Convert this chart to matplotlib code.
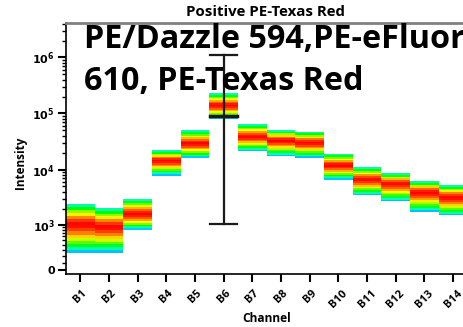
import numpy as np
import matplotlib
matplotlib.use("Agg")
import matplotlib.pyplot as plt
from matplotlib.colors import hsv_to_rgb

channels = ["B1", "B2", "B3", "B4", "B5", "B6", "B7", "B8", "B9", "B10", "B11", "B12", "B13", "B14"]
top_vals = [2400, 2050, 3000, 22000, 50000, 228000, 63700, 50800, 47200, 19200, 10960, 8690, 6340, 5370]
bottom_vals = [250, 250, 790, 7800, 16100, 78200, 21200, 17200, 16100, 6600, 3450, 2690, 1770, 1500]
peak_vals = [1010, 920, 1610, 14400, 29000, 139000, 38800, 32900, 30300, 11800, 6600, 5600, 3850, 3140]
err_channel = "B6"
err_low, err_mid, err_high = 1050, 88400, 1090000

C = 324.0
LN10 = np.log(10)

def fwd(y):
    return np.arcsinh(np.asarray(y, float) / C) / LN10

def inv(f):
    return C * np.sinh(np.asarray(f, float) * LN10)

FONT = 'Open Sans'
fig = plt.figure(figsize=(4.64, 3.27), dpi=100)
ax = fig.add_axes([66/464, 1-274/327, 1-66/464, (274-23)/327])
ax.set_yscale('function', functions=(fwd, inv))

nrows = 16
for i, (t, b, p) in enumerate(zip(top_vals, bottom_vals, peak_vals)):
    x = i + 1
    ft, fb, fp = fwd(t), fwd(b), fwd(p)
    edges_f = np.linspace(fb, ft, nrows + 1)
    mids = 0.5 * (edges_f[:-1] + edges_f[1:])
    hues = np.empty(nrows)
    for k, m in enumerate(mids):
        if m >= fp:
            d = (m - fp) / (ft - fp)
            hues[k] = 0.50 * d ** 1.6
        else:
            d = (fp - m) / (fp - fb)
            hues[k] = 0.59 * d ** 1.6
    hsv = np.stack([hues, np.ones(nrows), np.ones(nrows)], axis=-1)
    rgb = hsv_to_rgb(hsv)
    Y = inv(edges_f)
    ax.bar(np.full(nrows, x), Y[1:] - Y[:-1], bottom=Y[:-1], width=1.0,
           color=rgb, linewidth=0, antialiased=False, zorder=2)

ex = channels.index(err_channel) + 1
ax.plot([ex, ex], [err_low, err_high], color='#1a1a1a', lw=1.6, zorder=4)
cw = 0.47
ax.plot([ex - cw, ex + cw], [err_low, err_low], color='#1a1a1a', lw=1.6, zorder=4)
ax.plot([ex - cw, ex + cw], [err_high, err_high], color='#1a1a1a', lw=1.6, zorder=4)
ax.plot([ex - cw, ex + cw], [err_mid, err_mid], color='#1a1a1a', lw=2.5, zorder=4)

ax.set_xlim(0.5, 14.38)
ax.set_ylim(inv(-0.0716), inv(4.404))

ax.set_xticks(np.arange(1, 15))
ax.set_xticklabels(channels, rotation=45, fontsize=8, fontweight='bold',
                   family=FONT, ha='center', va='top')
majors = [0, 1e3, 1e4, 1e5, 1e6]
ax.set_yticks(majors)
ax.set_yticklabels(["0", r"$\mathbf{10^3}$", r"$\mathbf{10^4}$", r"$\mathbf{10^5}$", r"$\mathbf{10^6}$"],
                   fontsize=8, fontweight='bold')
minors = [k * 10 ** e for e in range(2, 7) for k in range(1, 10) if k * 10 ** e not in majors and k * 10 ** e < 4.1e6]
ax.set_yticks(minors, minor=True)
ax.tick_params(axis='y', which='major', length=6, width=1.5, direction='out', pad=2)
ax.tick_params(axis='y', which='minor', length=3, width=1, direction='out')
ax.tick_params(axis='x', which='major', length=6, width=1.5, direction='out', pad=4)

ax.spines['right'].set_visible(False)
ax.spines['top'].set_color('#808080')
ax.spines['top'].set_linewidth(2)
ax.spines['left'].set_linewidth(1.2)
ax.spines['bottom'].set_linewidth(1.2)

fig.text(266/464, 1-12/327, "Positive PE-Texas Red", ha='center', va='center',
         fontsize=10.8, fontweight='bold', family=FONT)
fig.text(20/464, 1-163/327, "Intensity", ha='center', va='center', rotation=90,
         fontsize=8.5, fontweight='bold', family=FONT)
fig.text(267/464, 1-318/327, "Channel", ha='center', va='center',
         fontsize=8.6, fontweight='bold', family=FONT)

fig.text(84/464, 1-40/327, "PE/Dazzle 594,PE-eFluor", ha='left', va='center',
         fontsize=23.3, fontweight='bold', family=FONT, zorder=10)
fig.text(84/464, 1-81/327, "610, PE-Texas Red", ha='left', va='center',
         fontsize=23.3, fontweight='bold', family=FONT, zorder=10)

fig.savefig("out.png", dpi=100)
